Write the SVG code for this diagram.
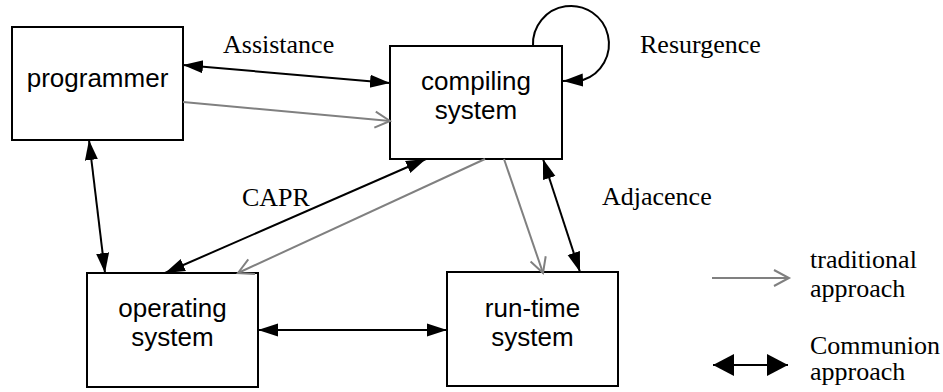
<svg xmlns="http://www.w3.org/2000/svg" width="943" height="392" viewBox="0 0 943 392">
<style>
.box{fill:#fff;stroke:#000;stroke-width:2}
.nt{font-family:"Liberation Sans",Arial,sans-serif;font-size:26px;fill:#000;text-anchor:middle}
.lb{font-family:"Liberation Serif","Times New Roman",serif;font-size:26px;fill:#000}
.blk{fill:none;stroke:#000;stroke-width:2;marker-start:url(#ah);marker-end:url(#ah)}
.gry{fill:none;stroke:#808080;stroke-width:2;marker-end:url(#oh)}
</style>
<defs>
<marker id="ah" markerUnits="userSpaceOnUse" markerWidth="22" markerHeight="16" viewBox="0 -8 22 16" refX="20" refY="0" orient="auto-start-reverse">
<path d="M0,-6.5 L20,0 L0,6.5 z" fill="#000"/>
</marker>
<marker id="oh" markerUnits="userSpaceOnUse" markerWidth="20" markerHeight="20" viewBox="-2 -10 20 20" refX="15" refY="0" orient="auto">
<path d="M0,-8 L15,0 L0,8" fill="none" stroke="#808080" stroke-width="2"/>
</marker>
<marker id="lh" markerUnits="userSpaceOnUse" markerWidth="24" markerHeight="24" viewBox="0 -12 24 24" refX="21" refY="0" orient="auto-start-reverse">
<path d="M0,-11 L21,0 L0,11 z" fill="#000"/>
</marker>
</defs>
<g id="programmer">
<rect class="box" x="12" y="27" width="171" height="113"/>
<text class="nt" x="97.5" y="87">programmer</text>
</g>
<g id="compiling-system">
<rect class="box" x="390" y="46" width="172" height="113"/>
<text class="nt" x="476" y="90">compiling</text>
<text class="nt" x="476" y="119">system</text>
</g>
<g id="operating-system">
<rect class="box" x="87" y="273" width="171" height="114"/>
<text class="nt" x="172.5" y="317">operating</text>
<text class="nt" x="172.5" y="346">system</text>
</g>
<g id="run-time-system">
<rect class="box" x="447" y="272" width="171" height="114"/>
<text class="nt" x="532.5" y="317">run-time</text>
<text class="nt" x="532.5" y="346">system</text>
</g>
<g id="connectors">
<path class="blk" d="M183,65 L390,83"/>
<path class="gry" d="M183,102 L390,121"/>
<path class="blk" d="M89,140 L105,273"/>
<path class="blk" d="M165,273 L426,159"/>
<path class="gry" d="M485,159 L238,273"/>
<path class="gry" d="M504,159 L543,273"/>
<path class="blk" d="M543,159 L580,272"/>
<path class="blk" d="M258,330 L447,330"/>
<path d="M533,46 A38,38 0 1 1 583,80 L563,81" fill="none" stroke="#000" stroke-width="2" marker-end="url(#ah)"/>
</g>
<g id="labels">
<text class="lb" x="223" y="53">Assistance</text>
<text class="lb" x="640" y="53">Resurgence</text>
<text class="lb" x="242" y="206">CAPR</text>
<text class="lb" x="602" y="205">Adjacence</text>
</g>
<g id="legend">
<path class="gry" d="M712,278 L789,278"/>
<path d="M713,365 L788,365" fill="none" stroke="#000" stroke-width="2" marker-start="url(#lh)" marker-end="url(#lh)"/>
<text class="lb" x="810" y="268">traditional</text>
<text class="lb" x="810" y="297">approach</text>
<text class="lb" x="810" y="354">Communion</text>
<text class="lb" x="810" y="380">approach</text>
</g>
</svg>
